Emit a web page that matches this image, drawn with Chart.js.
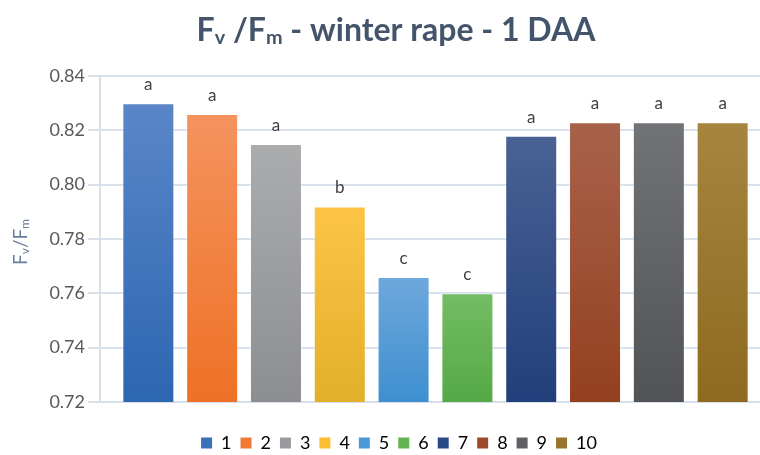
<!DOCTYPE html>
<html>
<head>
<meta charset="utf-8">
<script src="https://cdn.jsdelivr.net/npm/chart.js@4.4.1/dist/chart.umd.min.js"></script>
<style>
  html, body { margin: 0; padding: 0; background: #ffffff; overflow: hidden; }
  #wrap { width: 760px; height: 455px; overflow: hidden; position: relative; }
  canvas { display: block; }
</style>
</head>
<body>
<div id="wrap"><canvas id="c" width="792" height="470"></canvas></div>
<script>
// Treatments 1..10, Fv/Fm one day after application
const treatments = ['1', '2', '3', '4', '5', '6', '7', '8', '9', '10'];
const fvfm = [0.830, 0.826, 0.815, 0.792, 0.766, 0.760, 0.818, 0.823, 0.823, 0.823];
const groups = ['a', 'a', 'a', 'b', 'c', 'c', 'a', 'a', 'a', 'a'];
const yTicks = [0.72, 0.74, 0.76, 0.78, 0.80, 0.82, 0.84];

// top / bottom tones of each bar's fill
const topColors = ['#5a86c8', '#f5935e', '#abacae', '#fdc445', '#6ea8dc', '#73bd64', '#4a6294', '#a8624a', '#727376', '#a8853f'];
const bottomColors = ['#2d66b1', '#ee7125', '#8c8e91', '#e2b02a', '#3e8fd0', '#56a847', '#223f7b', '#94401f', '#515357', '#8d6a1f'];
const legendColors = ['#3a6fba', '#f07a34', '#999b9e', '#fbbd32', '#4a99d6', '#62b452', '#2a4a85', '#9c4a2a', '#5e6064', '#98752a'];

const FONT = 'Lato, "Open Sans", sans-serif';

function barFill(i) {
  return function (ctx) {
    const chart = ctx.chart;
    const area = chart.chartArea;
    if (ctx.type !== 'data' || !area || !chart.scales.y) return legendColors[i];
    const top = chart.scales.y.getPixelForValue(ctx.raw);
    const g = chart.ctx.createLinearGradient(0, top, 0, area.bottom);
    g.addColorStop(0, topColors[i]);
    g.addColorStop(1, bottomColors[i]);
    return g;
  };
}

const datasets = treatments.map((t, i) => ({
  label: t,
  data: [fvfm[i]],
  backgroundColor: barFill(i),
  borderColor: 'rgba(255,255,255,0.35)',
  borderWidth: 1,
  categoryPercentage: 0.951,
  barPercentage: 0.815
}));

// draws rich text (with subscripts) left to right starting at x
function drawRich(ctx, parts, x, y, size, weight, color) {
  ctx.fillStyle = color;
  ctx.textBaseline = 'alphabetic';
  ctx.textAlign = 'left';
  for (const p of parts) {
    const s = p.sub ? size * 0.62 : size;
    ctx.font = weight + ' ' + s + 'px ' + FONT;
    ctx.fillText(p.t, x, y + (p.sub ? size * 0.1 : 0));
    x += ctx.measureText(p.t).width;
  }
}
function richWidth(ctx, parts, size, weight) {
  let w = 0;
  for (const p of parts) {
    const s = p.sub ? size * 0.62 : size;
    ctx.font = weight + ' ' + s + 'px ' + FONT;
    w += ctx.measureText(p.t).width;
  }
  return w;
}

const titleParts = [{t: 'F'}, {t: 'v', sub: true}, {t: ' /F'}, {t: 'm', sub: true}, {t: ' - winter rape - 1 DAA'}];
const axisParts = [{t: 'F'}, {t: 'v', sub: true}, {t: '/F'}, {t: 'm', sub: true}];

const textPlugin = {
  id: 'richText',
  afterDraw(chart) {
    const ctx = chart.ctx;
    ctx.save();
    // chart title
    const ts = 32;
    const tw = richWidth(ctx, titleParts, ts, 'bold');
    drawRich(ctx, titleParts, chart.width / 2 - tw / 2, 41, ts, 'bold', '#44546a');
    // y axis title, rotated
    const as = 19;
    const aw = richWidth(ctx, axisParts, as, 'normal');
    ctx.translate(27, 242);
    ctx.rotate(-Math.PI / 2);
    drawRich(ctx, axisParts, -aw / 2, 0, as, 'normal', '#6a7e9e');
    ctx.restore();

    // significance letters above the bars
    ctx.save();
    ctx.font = '17px ' + FONT;
    ctx.fillStyle = '#404040';
    ctx.textAlign = 'center';
    ctx.textBaseline = 'alphabetic';
    chart.data.datasets.forEach((ds, i) => {
      const el = chart.getDatasetMeta(i).data[0];
      if (el) ctx.fillText(groups[i], el.x, el.y - 13);
    });
    ctx.restore();
  }
};

new Chart(document.getElementById('c'), {
  type: 'bar',
  data: { labels: [''], datasets },
  options: {
    responsive: false,
    animation: false,
    devicePixelRatio: 1,
    layout: { padding: { top: 76, right: 21, left: 27, bottom: 8 } },
    plugins: {
      title: { display: false },
      tooltip: { enabled: false },
      legend: {
        position: 'bottom',
        labels: {
          boxWidth: 11,
          boxHeight: 11,
          padding: 9,
          color: '#595959',
          font: { family: FONT, size: 18 },
          generateLabels: (chart) => treatments.map((t, i) => ({
            text: t,
            fillStyle: legendColors[i],
            strokeStyle: legendColors[i],
            lineWidth: 0,
            datasetIndex: i,
            hidden: false
          }))
        }
      }
    },
    scales: {
      x: {
        grid: { display: false },
        border: { display: true, color: '#d6dfea', width: 2 },
        ticks: { display: false },
        afterFit: (s) => { s.height = 23; }
      },
      y: {
        min: 0.72,
        max: 0.84,
        afterBuildTicks: (s) => { s.ticks = yTicks.map(v => ({ value: v })); },
        afterFit: (s) => { s.width = 73; },
        grid: { color: '#d9e2ec', lineWidth: 2, tickLength: 12, drawTicks: true },
        border: { display: true, color: '#d6dfea', width: 2 },
        ticks: {
          padding: 3,
          color: '#595959',
          font: { family: FONT, size: 18 },
          callback: (v) => Number(v).toFixed(2)
        }
      }
    }
  },
  plugins: [textPlugin]
});
</script>
</body>
</html>
